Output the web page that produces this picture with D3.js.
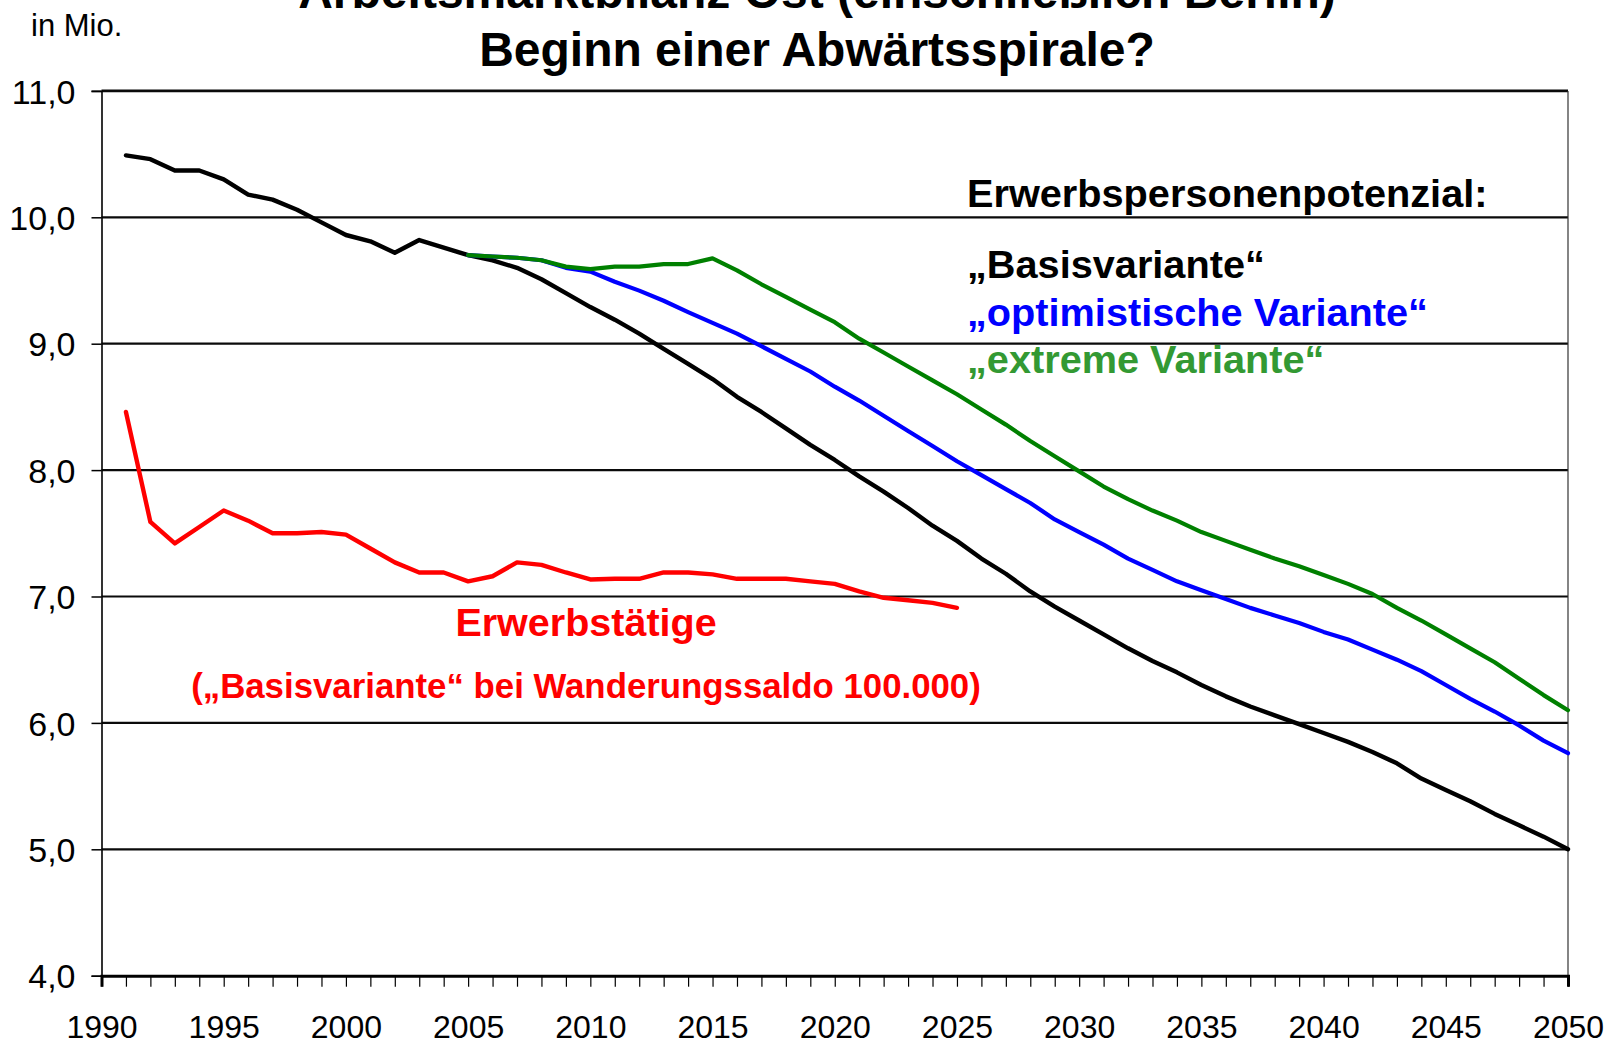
<!DOCTYPE html>
<html><head><meta charset="utf-8">
<script src="https://cdn.jsdelivr.net/npm/d3@7"></script>
<style>
html,body{margin:0;padding:0;background:#fff;}
svg{display:block;font-family:"Liberation Sans",Arial,sans-serif;}
</style></head><body>
<svg id="chart" width="1612" height="1046"></svg>
<script>
// ---- data ----
const yearsBasis = d3.range(1991, 2051);
const basisValues = [10.49,10.46,10.37,10.37,10.30,10.18,10.14,10.06,9.96,9.86,
  9.81,9.72,9.82,9.76,9.70,9.66,9.60,9.51,9.40,9.29,
  9.19,9.08,8.96,8.84,8.72,8.58,8.46,8.33,8.20,8.08,
  7.95,7.83,7.70,7.56,7.44,7.30,7.18,7.04,6.92,6.81,
  6.70,6.59,6.49,6.40,6.30,6.21,6.13,6.06,5.99,5.92,
  5.85,5.77,5.68,5.56,5.47,5.38,5.28,5.19,5.10,5.00];
const yearsVariants = d3.range(2005, 2051);
const optimistValues = [9.70,9.69,9.68,9.66,9.60,9.57,9.49,9.42,9.34,9.25,
  9.165,9.08,8.98,8.88,8.78,8.66,8.55,8.43,8.31,8.19,
  8.07,7.96,7.85,7.74,7.61,7.51,7.41,7.30,7.21,7.12,
  7.05,6.98,6.91,6.85,6.79,6.72,6.66,6.58,6.50,6.41,
  6.30,6.19,6.09,5.98,5.86,5.76];
const extremeValues = [9.70,9.69,9.68,9.66,9.61,9.59,9.61,9.61,9.63,9.63,
  9.675,9.58,9.47,9.37,9.27,9.17,9.04,8.93,8.82,8.71,
  8.60,8.48,8.36,8.23,8.11,7.99,7.87,7.77,7.68,7.60,
  7.51,7.44,7.37,7.30,7.24,7.17,7.10,7.02,6.91,6.81,
  6.70,6.59,6.48,6.35,6.22,6.10];
const yearsEmployed = d3.range(1991, 2026);
const employedValues = [8.46,7.59,7.42,7.55,7.68,7.60,7.50,7.50,7.51,7.49,
  7.38,7.27,7.19,7.19,7.12,7.16,7.27,7.25,7.19,7.135,
  7.14,7.14,7.19,7.19,7.175,7.14,7.14,7.14,7.12,7.10,
  7.04,6.99,6.97,6.95,6.91];
const yTicks = [4,5,6,7,8,9,10,11];
const xTickYears = d3.range(1990, 2051, 1);

// ---- layout ----
const svg = d3.select("#chart");
const x = d3.scaleLinear().domain([1990, 2050]).range([101.5, 1568]);
const y = d3.scaleLinear().domain([4, 11]).range([975.7, 90.9]);
const fmt = v => d3.format(".1f")(v).replace(".", ",");

svg.append("rect").attr("width",1612).attr("height",1046).attr("fill","#fff");

// gridlines
svg.append("g").selectAll("line").data(yTicks.filter(v=>v>4)).join("line")
  .attr("x1", x(1990)).attr("x2", x(2050))
  .attr("y1", d=>y(d)).attr("y2", d=>y(d))
  .attr("stroke", "#0a0a0a").attr("stroke-width", d=> d===11 ? 2.6 : 2.2);

// right border
svg.append("line").attr("x1", x(2050)).attr("x2", x(2050))
  .attr("y1", y(11)).attr("y2", y(4)).attr("stroke","#333").attr("stroke-width",1.2);

// y axis
const yAxis = d3.axisLeft(y).tickValues(yTicks).tickFormat(fmt).tickSize(10).tickPadding(16);
const gy = svg.append("g").attr("transform", `translate(${x(1990)},0)`).call(yAxis);
gy.select(".domain").attr("stroke","#000").attr("stroke-width",1.6);
gy.selectAll(".tick line").attr("stroke","#000").attr("stroke-width",1.5);
gy.selectAll(".tick text").attr("font-size",34).attr("fill","#000")
  .attr("font-family","'Liberation Sans',Arial,sans-serif").attr("dy","0.36em");

// x axis
const xAxis = d3.axisBottom(x).tickValues(xTickYears).tickSize(11)
  .tickFormat(d => d % 5 === 0 ? String(d) : "");
const gx = svg.append("g").attr("transform", `translate(0,${y(4)})`).call(xAxis);
gx.select(".domain").attr("stroke","#000").attr("stroke-width",3);
gx.selectAll(".tick line").attr("stroke","#000").attr("stroke-width",1.2);
gx.selectAll(".tick text").attr("font-size",32).attr("fill","#000")
  .attr("font-family","'Liberation Sans',Arial,sans-serif").attr("y",40).attr("dy","0.71em");

// lines
const line = d3.line().x(d=>x(d[0])).y(d=>y(d[1])).curve(d3.curveLinear);
const series = [
  {years: yearsEmployed, vals: employedValues, color:"#ff0000", w:4.4},
  {years: yearsBasis, vals: basisValues, color:"#000000", w:4.4},
  {years: yearsVariants, vals: optimistValues, color:"#0000ff", w:4.2},
  {years: yearsVariants, vals: extremeValues, color:"#008000", w:4.2}
];
svg.append("g").selectAll("path").data(series).join("path")
  .attr("d", s => line(s.years.map((yr,i)=>[yr, s.vals[i]])))
  .attr("fill","none").attr("stroke", s=>s.color).attr("stroke-width", s=>s.w)
  .attr("stroke-linejoin","round").attr("stroke-linecap","round");

// titles
svg.append("text").attr("x",817).attr("y",8).attr("text-anchor","middle")
  .attr("font-size",48).attr("font-weight","bold").attr("fill","#000")
  .text("Arbeitsmarktbilanz Ost (einschließlich Berlin)");
svg.append("text").attr("x",817).attr("y",66).attr("text-anchor","middle")
  .attr("font-size",48).attr("font-weight","bold").attr("fill","#000")
  .text("Beginn einer Abwärtsspirale?");
svg.append("text").attr("x",31).attr("y",36).attr("font-size",31)
  .attr("fill","#000").text("in Mio.");

// legend texts
const legend = [
  {t:"Erwerbspersonenpotenzial:", c:"#000000", y:207},
  {t:"„Basisvariante“", c:"#000000", y:278},
  {t:"„optimistische Variante“", c:"#0000ff", y:326},
  {t:"„extreme Variante“", c:"#339933", y:373}
];
svg.append("g").selectAll("text").data(legend).join("text")
  .attr("x",967).attr("y",d=>d.y).attr("font-size",39.7).attr("font-weight","bold")
  .attr("fill",d=>d.c).text(d=>d.t);

// red annotation
svg.append("text").attr("x",586).attr("y",636).attr("text-anchor","middle")
  .attr("font-size",39.5).attr("font-weight","bold").attr("fill","#ff0000").text("Erwerbstätige");
svg.append("text").attr("x",586).attr("y",698).attr("text-anchor","middle")
  .attr("font-size",34.8).attr("font-weight","bold").attr("fill","#ff0000")
  .text("(„Basisvariante“ bei Wanderungssaldo 100.000)");
</script>
</body></html>
